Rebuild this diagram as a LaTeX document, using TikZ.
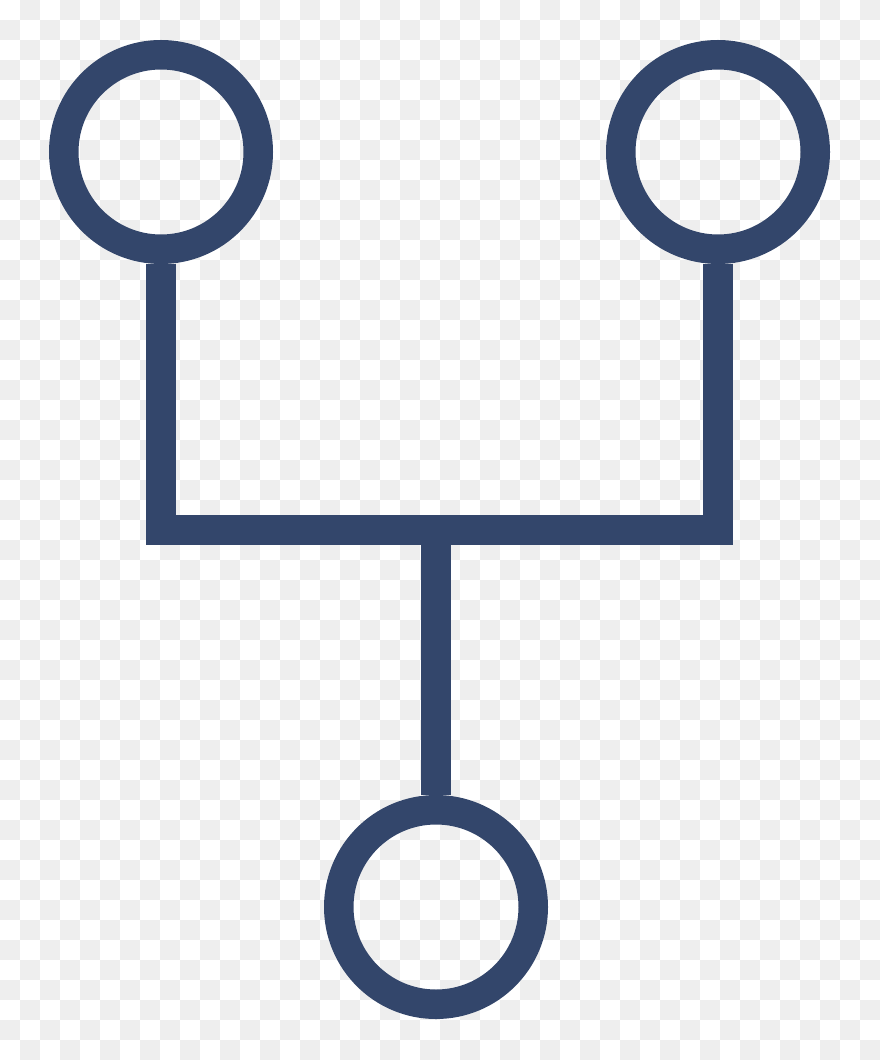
\documentclass[tikz,border=0pt]{standalone}
\usepackage{tikz}
\definecolor{navy}{HTML}{33466B}
\definecolor{chk}{HTML}{EEEEEE}
\tikzset{
  ring/.style={circle,draw=navy,line width=2.95mm,minimum size=19.45mm,inner sep=0pt},
  wire/.style={draw=navy,line width=2.95mm,line join=miter}
}

\begin{document}
\begin{tikzpicture}
	\useasboundingbox (0,0) rectangle (8.8,-10.6);
	\fill[white] (0,0) rectangle (8.8,-10.6);
	\foreach \i in {0,...,43} {\foreach \j in {0,...,52} {\ifodd\numexpr\i+\j\relax
		\fill[chk] (\i*0.2,-\j*0.2) rectangle ++(0.2,-0.2);\fi}}
	\node[ring] (L) at (1.61,-1.52) {};
	\node[ring] (R) at (7.18,-1.52) {};
	\node[ring] (B) at (4.36,-9.07) {};
	\coordinate (J) at (4.36,-5.30);
	\draw[wire] (L.south) -- (L.south |- J) -- (R.south |- J) -- (R.south);
	\draw[wire] (J) -- (B.north);
\end{tikzpicture}
\end{document}
